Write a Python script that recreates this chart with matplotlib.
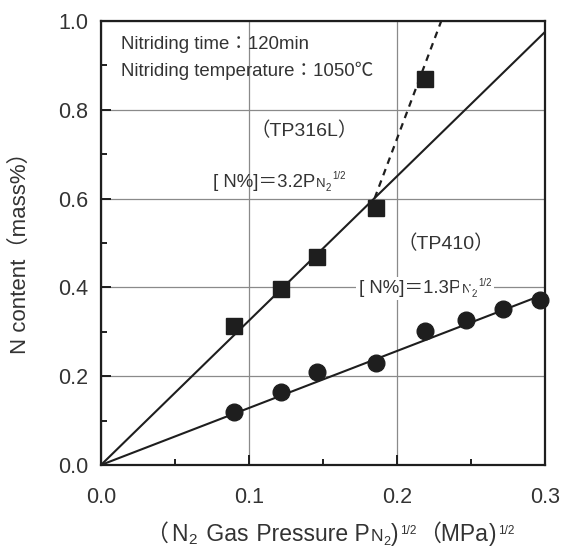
import matplotlib
matplotlib.use('Agg')
import matplotlib.pyplot as plt
from matplotlib.transforms import IdentityTransform

plt.rcParams['font.family'] = ['Liberation Sans', 'Noto Sans CJK JP']

# TP316L (squares)
tp316_x = [0.090, 0.122, 0.146, 0.186, 0.219]
tp316_y = [0.313, 0.396, 0.468, 0.579, 0.869]
# TP410 (circles)
tp410_x = [0.090, 0.122, 0.146, 0.186, 0.219, 0.247, 0.272, 0.297]
tp410_y = [0.119, 0.164, 0.209, 0.230, 0.302, 0.327, 0.351, 0.372]

# fitted lines
fit316_x = [0.0, 0.3]
fit316_y = [0.0, 0.975]
fit410_x = [0.0, 0.3]
fit410_y = [0.0, 0.385]
dash_x = [0.185, 0.230]
dash_y = [0.601, 1.0]

ink = '#1e1e1e'
txt = '#333333'

fig = plt.figure(figsize=(5.64, 5.48), dpi=100)
ax = fig.add_axes([0.179, 0.1515, 0.787, 0.8102])
renderer = fig.canvas.get_renderer()


def chain(x, y, parts, transform=None, center=False, **kw):
    # draw text pieces one after the other on a shared baseline
    # parts: (string, fontsize, raise in pt, extra gap before in pt)
    if transform is not None:
        x, y = transform.transform((x, y))
    k = fig.dpi / 72.0
    cx = x
    arts = []
    for s, size, dy, dx in parts:
        cx += dx * k
        t = fig.text(cx, y + dy * k, s, fontsize=size, transform=IdentityTransform(),
                     ha='left', va='baseline', color=txt, **kw)
        cx = t.get_window_extent(renderer).x1
        arts.append(t)
    if center:
        shift = (cx - x) / 2.0
        for t in arts:
            px, py = t.get_position()
            t.set_position((px - shift, py))
    return arts


ax.plot(fit316_x, fit316_y, color=ink, lw=1.5, zorder=3)
ax.plot(fit410_x, fit410_y, color=ink, lw=1.5, zorder=3)
ax.plot(dash_x, dash_y, color=ink, lw=1.6, ls=(0, (3, 2.5)), zorder=3)
ax.plot(tp316_x, tp316_y, 's', color=ink, ms=12, zorder=4, clip_on=False)
ax.plot(tp410_x, tp410_y, 'o', color=ink, ms=12, zorder=4, clip_on=False)

ax.set_xlim(0, 0.3)
ax.set_ylim(0, 1.0)
ax.set_xticks([0.0, 0.1, 0.2, 0.3])
ax.set_xticklabels(['0.0', '0.1', '0.2', '0.3'])
ax.set_xticks([0.05, 0.15, 0.25], minor=True)
ax.set_yticks([0.0, 0.2, 0.4, 0.6, 0.8, 1.0])
ax.set_yticklabels(['0.0', '0.2', '0.4', '0.6', '0.8', '1.0'])
ax.set_yticks([0.1, 0.3, 0.5, 0.7, 0.9], minor=True)
ax.tick_params(which='both', direction='in', colors=ink, labelcolor=txt,
               labelsize=15.5, width=1.4, top=False, right=False)
ax.tick_params(which='major', length=7)
ax.tick_params(which='minor', length=4.5)
ax.tick_params(axis='x', which='major', pad=16)
ax.tick_params(axis='y', which='major', pad=9)
ax.grid(True, which='major', color='#8a8a8a', lw=0.9)
for s in ax.spines.values():
    s.set_color(ink)
    s.set_linewidth(1.6)
    s.set_zorder(5)

ax.set_ylabel('N content（mass%）', fontsize=16, color=txt)
ax.yaxis.set_label_coords(-0.158, 0.49)

# x axis title, built from pieces so the sub/superscripts sit like the original
chain(330, 7, [('（', 16.5, 0, 0), ('N', 16.5, 0, 2), ('2', 11, -2.5, 0.5),
               (' Gas', 16.5, 0, 2), (' Pressure P', 16.5, 0, 1.5),
               ('N', 12.5, 0, 0.5), ('2', 9, -3, 0),
               (')', 16.5, 0, 0.5), ('1/2', 8.5, 5, 1.5),
               ('（MPa', 16.5, 0, 1), (')', 16.5, 0, 0.5), ('1/2', 8.5, 5, 1.5)],
      center=True)

ax.text(0.0135, 0.937, 'Nitriding time：120min', fontsize=13.4, color=txt,
        va='baseline', ha='left')
ax.text(0.0135, 0.876, 'Nitriding temperature：1050℃', fontsize=13.4, color=txt,
        va='baseline', ha='left')
ax.text(0.1014, 0.741, '（TP316L）', fontsize=14, color=txt, ha='left', va='baseline')
ax.text(0.2007, 0.4865, '（TP410）', fontsize=14, color=txt, ha='left', va='baseline')

eq = lambda a: [('[ N%]＝' + a + 'P', 13.4, 0, 0), ('N', 9.5, 0, 0.5),
                ('2', 7, -2.5, 0), ('1/2', 7, 5.5, 1)]
chain(0.0757, 0.626, eq('3.2'), transform=ax.transData)
chain(0.1743, 0.387, eq('1.3'), transform=ax.transData,
      bbox=dict(facecolor='white', edgecolor='none', pad=2))

fig.savefig('out.png', dpi=100)
